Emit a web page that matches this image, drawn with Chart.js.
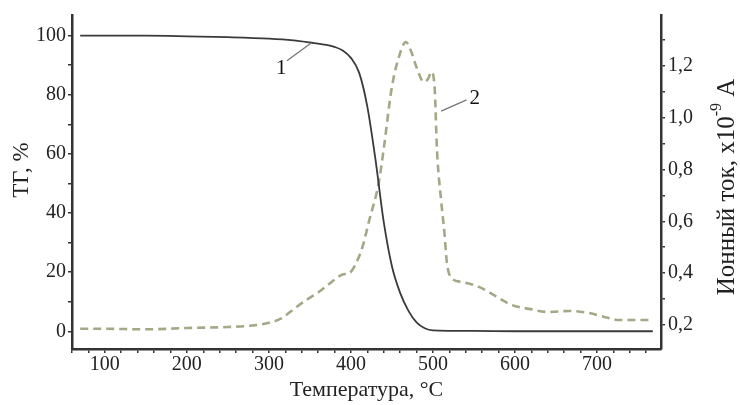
<!DOCTYPE html>
<html>
<head>
<meta charset="utf-8">
<script src="https://cdn.jsdelivr.net/npm/chart.js@4.4.0/dist/chart.umd.min.js"></script>
<style>
html, body { margin: 0; padding: 0; background: #fff; }
#wrap { width: 740px; height: 405px; }
</style>
</head>
<body>
<div id="wrap"><canvas id="tgChart" width="740" height="405"></canvas></div>
<script>
// curve 1: TG, %
const tgTemps  = [70, 100, 150, 200, 250, 300, 330, 350, 370, 380, 390, 400, 410, 420, 430, 440, 450, 460, 470, 480, 490, 500, 550, 600, 650, 700, 768];
const tgValues = [100, 100, 100, 99.8, 99.5, 99, 98.4, 97.7, 96.9, 96.2, 95, 92.5, 87.5, 76, 58, 37, 22, 13, 7, 3, 1, 0.3, 0.1, 0, 0, 0, 0];

// curve 2: ion current, x10^-9 A
const ionTemps  = [70, 100, 150, 200, 250, 280, 300, 315, 330, 345, 360, 375, 390, 398, 405, 414, 422, 434, 440, 450, 460, 467, 473, 480, 489, 494, 498, 502, 505, 510, 514, 517, 523, 535, 556, 577, 596, 617, 640, 666, 690, 714, 727, 765];
const ionValues = [0.185, 0.185, 0.183, 0.188, 0.192, 0.198, 0.208, 0.225, 0.26, 0.295, 0.325, 0.362, 0.395, 0.40, 0.43, 0.50, 0.60, 0.75, 0.88, 1.12, 1.25, 1.293, 1.26, 1.195, 1.138, 1.15, 1.177, 1.12, 0.87, 0.68, 0.555, 0.44, 0.38, 0.366, 0.347, 0.31, 0.277, 0.262, 0.25, 0.254, 0.246, 0.227, 0.219, 0.219];

const xTickLabels = [100, 200, 300, 400, 500, 600, 700];
const tgTickLabels = [0, 20, 40, 60, 80, 100];
const ionTickLabels = [0.2, 0.4, 0.6, 0.8, 1.0, 1.2];

const serif = '"Liberation Serif", "Times New Roman", serif';
const axisColor = '#333';

function pinSize(prop, size) {
	return scale => { scale[prop] = size; };
}

const titlesPlugin = {
	id: 'titlesPlugin',
	afterDraw(chart) {
		const { ctx, chartArea: { left, right } } = chart;
		ctx.save();
		ctx.fillStyle = '#222';
		ctx.textBaseline = 'middle';
		ctx.textAlign = 'center';

		// x title
		ctx.font = '22px ' + serif;
		ctx.fillText('Температура, °C', (left + right) / 2, 390);

		// left title
		ctx.save();
		ctx.font = '23px ' + serif;
		ctx.translate(22, 170);
		ctx.rotate(-Math.PI / 2);
		ctx.fillText('ТГ, %', 0, 0);
		ctx.restore();

		// right title with superscript
		const main = 'Ионный ток, x10';
		const sup = '-9';
		const tail = ' А';
		ctx.font = '25px ' + serif;
		const wMain = ctx.measureText(main).width;
		const wTail = ctx.measureText(tail).width;
		ctx.font = '16px ' + serif;
		const wSup = ctx.measureText(sup).width;
		const total = wMain + wSup + wTail;
		ctx.save();
		ctx.translate(727, 187);
		ctx.rotate(-Math.PI / 2);
		ctx.textAlign = 'left';
		let pos = -total / 2;
		ctx.font = '25px ' + serif;
		ctx.fillText(main, pos, 0);
		pos += wMain;
		ctx.font = '16px ' + serif;
		ctx.fillText(sup, pos, -10);
		pos += wSup;
		ctx.font = '25px ' + serif;
		ctx.fillText(tail, pos, 0);
		ctx.restore();

		ctx.restore();
	}
};

const curveLabelsPlugin = {
	id: 'curveLabelsPlugin',
	afterDatasetsDraw(chart) {
		const { ctx, scales: { x, y, y2 } } = chart;
		ctx.save();
		ctx.strokeStyle = '#777';
		ctx.lineWidth = 1.3;

		// leader for curve 1
		ctx.beginPath();
		ctx.moveTo(x.getPixelForValue(322), y.getPixelForValue(91.5));
		ctx.lineTo(x.getPixelForValue(352), y.getPixelForValue(97.6));
		ctx.stroke();

		// leader for curve 2
		ctx.beginPath();
		ctx.moveTo(x.getPixelForValue(510), y2.getPixelForValue(1.026));
		ctx.lineTo(x.getPixelForValue(541), y2.getPixelForValue(1.069));
		ctx.stroke();

		ctx.fillStyle = '#111';
		ctx.font = '21px ' + serif;
		ctx.textAlign = 'center';
		ctx.textBaseline = 'middle';
		ctx.fillText('1', x.getPixelForValue(315), y.getPixelForValue(88.9));
		ctx.fillText('2', x.getPixelForValue(551), y2.getPixelForValue(1.076));
		ctx.restore();
	}
};

function tgChartConfig() {
	const canvas = document.getElementById('tgChart');
	if (!canvas) return;
	const ctx = canvas.getContext('2d');

	new Chart(ctx, {
		type: 'line',
		data: {
			datasets: [{
				label: 'ТГ',
				data: tgTemps.map((t, i) => ({ x: t, y: tgValues[i] })),
				yAxisID: 'y',
				borderColor: '#3a3a3a',
				borderWidth: 1.8,
				pointRadius: 0,
				cubicInterpolationMode: 'monotone',
				fill: false
			},
			{
				label: 'Ионный ток',
				data: ionTemps.map((t, i) => ({ x: t, y: ionValues[i] })),
				yAxisID: 'y2',
				borderColor: '#a3a986',
				borderWidth: 2.6,
				borderDash: [8, 5],
				pointRadius: 0,
				cubicInterpolationMode: 'monotone',
				fill: false
			}]
		},
		options: {
			responsive: false,
			animation: false,
			devicePixelRatio: 1,
			layout: {
				padding: { top: 15, left: 0, right: 0, bottom: 0 }
			},
			plugins: {
				legend: { display: false },
				tooltip: { enabled: false }
			},
			scales: {
				x: {
					type: 'linear',
					min: 60,
					max: 778,
					afterFit: pinSize('height', 56),
					border: { display: true, color: axisColor, width: 2.5 },
					grid: { drawOnChartArea: false, drawTicks: true, tickLength: 4, color: axisColor, lineWidth: 1.5 },
					ticks: {
						stepSize: 20,
						includeBounds: false,
						autoSkip: false,
						maxRotation: 0,
						padding: 0,
						color: '#222',
						font: { family: serif, size: 20 },
						callback: v => xTickLabels.includes(v) ? String(v) : ''
					}
				},
				y: {
					type: 'linear',
					position: 'left',
					min: -6,
					max: 107,
					afterFit: pinSize('width', 72),
					border: { display: true, color: axisColor, width: 2.5 },
					grid: { drawOnChartArea: false, drawTicks: true, tickLength: 4, color: axisColor, lineWidth: 1.5 },
					ticks: {
						stepSize: 10,
						includeBounds: false,
						autoSkip: false,
						padding: 2,
						color: '#222',
						font: { family: serif, size: 20 },
						callback: v => tgTickLabels.includes(v) ? String(v) : ''
					}
				},
				y2: {
					type: 'linear',
					position: 'right',
					min: 0.107,
					max: 1.397,
					afterFit: pinSize('width', 79),
					border: { display: true, color: axisColor, width: 2.5 },
					grid: { drawOnChartArea: false, drawTicks: true, tickLength: 4, color: axisColor, lineWidth: 1.5 },
					ticks: {
						stepSize: 0.1,
						includeBounds: false,
						autoSkip: false,
						padding: 3,
						color: '#222',
						font: { family: serif, size: 20 },
						callback: v => {
							const hit = ionTickLabels.find(t => Math.abs(t - v) < 1e-6);
							return hit !== undefined ? hit.toFixed(1).replace('.', ',') : '';
						}
					}
				}
			}
		},
		plugins: [titlesPlugin, curveLabelsPlugin]
	});
}
document.addEventListener('DOMContentLoaded', tgChartConfig);
</script>
</body>
</html>
